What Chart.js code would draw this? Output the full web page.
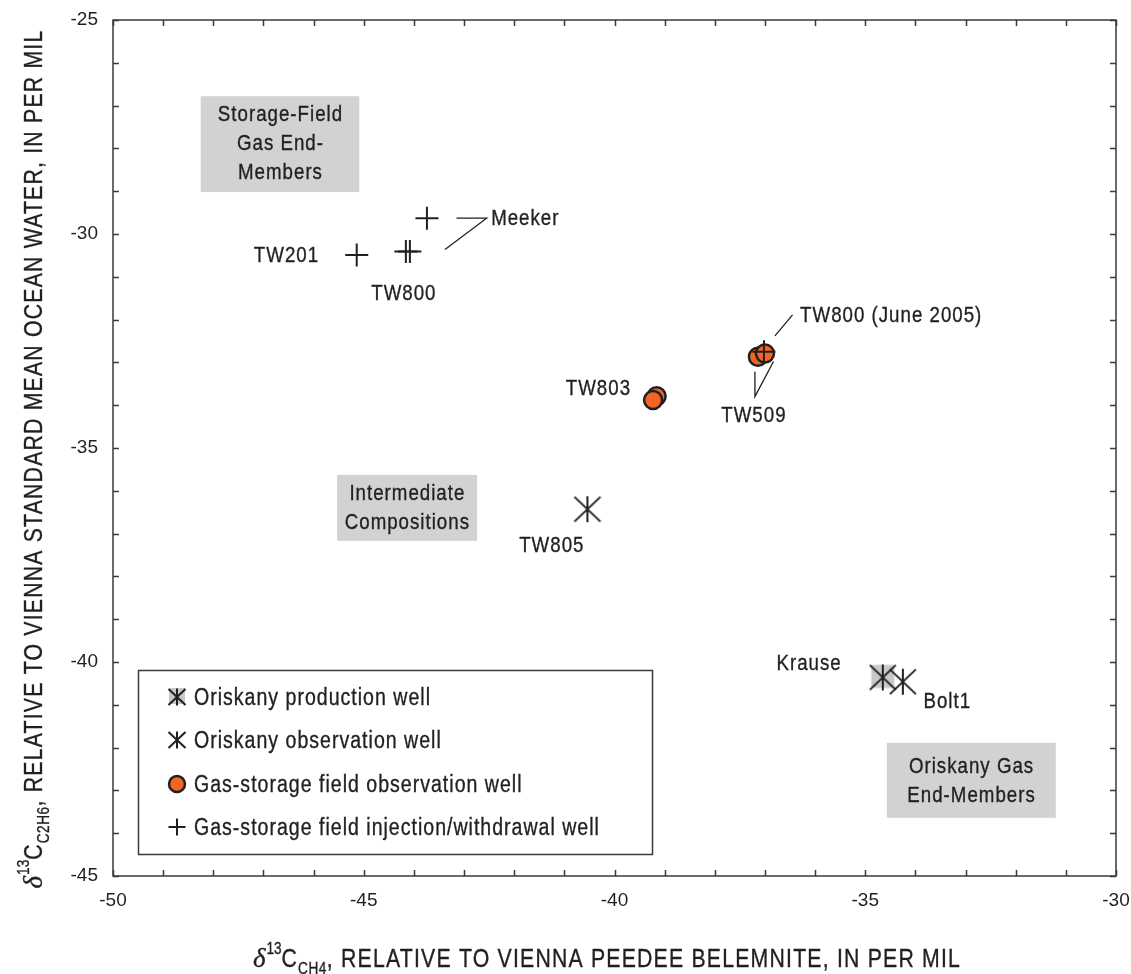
<!DOCTYPE html>
<html>
<head>
<meta charset="utf-8">
<script src="https://cdn.jsdelivr.net/npm/chart.js@4.4.1/dist/chart.umd.min.js"></script>
<style>
  html, body { margin: 0; padding: 0; background: #ffffff; }
  #wrap { width: 1131px; height: 974px; position: relative; }
</style>
</head>
<body>
<div id="wrap"><canvas id="chart" width="1131" height="974"></canvas></div>
<script>
// δ13C of methane (x) and ethane (y), per mil, by well category
const prodWellX = [-34.65];                 // Krause
const prodWellY = [-40.36];
const obsWellX  = [-40.54, -34.25];         // TW805, Bolt1
const obsWellY  = [-36.43, -40.46];
const gsObsX    = [-39.16, -39.23, -37.14, -37.00];   // TW803 (2), TW509 (2)
const gsObsY    = [-33.79, -33.88, -32.87, -32.79];
const gsInjX    = [-45.14, -44.16, -44.08, -43.74, -37.02]; // TW201, TW800 (2), Meeker, TW800 June 2005
const gsInjY    = [-30.49, -30.41, -30.41, -29.63, -32.75];

const seriesNames = [
  'Oriskany production well',
  'Oriskany observation well',
  'Gas-storage field observation well',
  'Gas-storage field injection/withdrawal well'
];
const xTickLabels = [-50, -45, -40, -35, -30];
const yTickLabels = [-25, -30, -35, -40, -45];

const INK = '#231f20';
const ORANGE = '#f26522';
const GREY_BOX = '#d1d2d4';
const SANS = "'Liberation Sans', Arial, sans-serif";
const CONDENSE = 0.85;   // horizontal squeeze giving a condensed face
const HEFT = 0.35;       // thin outline that darkens condensed text a little

const zip = (xs, ys) => xs.map((x, i) => ({ x: x, y: ys[i] }));

// six-spoke asterisk marker, optionally on a grey square
function asteriskMarker(size, half, lw, squareHalf) {
  const c = document.createElement('canvas');
  c.width = size; c.height = size;
  const g = c.getContext('2d');
  const m = size / 2;
  if (squareHalf) {
    g.fillStyle = '#c8c8c8';
    g.fillRect(m - squareHalf, m - squareHalf - 1, squareHalf * 2, squareHalf * 2);
  }
  g.strokeStyle = INK;
  g.lineWidth = lw;
  g.lineCap = 'butt';
  g.beginPath();
  g.moveTo(m, m - half); g.lineTo(m, m + half);
  g.moveTo(m - half, m - half * 0.95); g.lineTo(m + half, m + half * 0.95);
  g.moveTo(m + half, m - half * 0.95); g.lineTo(m - half, m + half * 0.95);
  g.stroke();
  return c;
}
const prodMarker = asteriskMarker(30, 13, 2, 11.5);
const obsMarker = asteriskMarker(30, 13, 2, 0);
const prodLegend = asteriskMarker(20, 8.5, 2, 8);
const obsLegend = asteriskMarker(20, 8.5, 2, 0);

// text annotations placed in data units
const pointLabels = [
  { t: 'Meeker', x: -42.46, y: -29.79, align: 'left' },
  { t: 'TW201', x: -45.91, y: -30.65, align: 'right' },
  { t: 'TW800', x: -44.21, y: -31.54, align: 'center' },
  { t: 'TW800 (June 2005)', x: -36.30, y: -32.06, align: 'left' },
  { t: 'TW509', x: -37.23, y: -34.385, align: 'center' },
  { t: 'TW803', x: -39.69, y: -33.76, align: 'right' },
  { t: 'TW805', x: -41.26, y: -37.42, align: 'center' },
  { t: 'Krause', x: -36.77, y: -40.19, align: 'left' },
  { t: 'Bolt1', x: -33.84, y: -41.08, align: 'left' }
];
const leaderLines = [
  [[-43.15, -29.63], [-42.55, -29.63], [-43.38, -30.36]],
  [[-36.45, -31.89], [-36.80, -32.38]],
  [[-37.20, -33.22], [-37.20, -33.80], [-36.83, -32.98]]
];
const groupBoxes = [
  { x0: -48.25, x1: -45.09, y0: -26.78, y1: -29.02, cx: -46.67,
    lines: ['Storage-Field', 'Gas End-', 'Members'], base: [-27.36, -28.04, -28.72] },
  { x0: -45.53, x1: -42.74, y0: -35.63, y1: -37.17, cx: -44.14,
    lines: ['Intermediate', 'Compositions'], base: [-36.21, -36.89] },
  { x0: -34.57, x1: -31.20, y0: -41.89, y1: -43.64, cx: -32.89,
    lines: ['Oriskany Gas', 'End-Members'], base: [-42.60, -43.26] }
];

function inkText(ctx, t) {
  ctx.fillText(t, 0, 0);
  ctx.strokeStyle = INK;
  ctx.lineWidth = HEFT;
  ctx.strokeText(t, 0, 0);
}

// condensed text: spacing is in final pixels
function drawText(ctx, t, x, y, align, size, spacing) {
  ctx.save();
  ctx.font = size + 'px ' + SANS;
  ctx.letterSpacing = (spacing / CONDENSE) + 'px';
  ctx.fillStyle = INK;
  ctx.textBaseline = 'alphabetic';
  ctx.textAlign = 'left';
  const w = (ctx.measureText(t).width) * CONDENSE - spacing;
  let x0 = x;
  if (align === 'center') x0 = x - w / 2;
  else if (align === 'right') x0 = x - w;
  ctx.translate(x0, y);
  ctx.scale(CONDENSE, 1);
  inkText(ctx, t);
  ctx.restore();
}

// runs of text with super/subscripts, centred on (0, 0) of the current transform
function drawRich(ctx, parts) {
  ctx.save();
  ctx.fillStyle = INK;
  ctx.textBaseline = 'alphabetic';
  ctx.textAlign = 'left';
  const sx = p => (p.sx === undefined ? CONDENSE : p.sx);
  let total = 0;
  const widths = parts.map(p => {
    ctx.font = p.font;
    ctx.letterSpacing = ((p.ls || 0) / sx(p)) + 'px';
    const w = ctx.measureText(p.t).width * sx(p) + (p.gap || 0);
    total += w;
    return w;
  });
  let x = -total / 2;
  parts.forEach((p, i) => {
    ctx.save();
    ctx.font = p.font;
    ctx.letterSpacing = ((p.ls || 0) / sx(p)) + 'px';
    ctx.translate(x, p.dy || 0);
    ctx.scale(sx(p), 1);
    inkText(ctx, p.t);
    ctx.restore();
    x += widths[i];
  });
  ctx.restore();
}

function axisTitle(sub, rest) {
  return [
    { t: '\u03B4', font: 'italic 27px "Liberation Serif", serif', sx: 1, gap: 1 },
    { t: '13', font: '16px ' + SANS, dy: -13 },
    { t: 'C', font: '25px ' + SANS, ls: 1.2 },
    { t: sub, font: '16px ' + SANS, dy: 7, ls: 0.5 },
    { t: rest, font: '25px ' + SANS, ls: 1.2 }
  ];
}

const decorPlugin = {
  id: 'decor',
  beforeDatasetsDraw(chart) {
    const ctx = chart.ctx;
    const xs = chart.scales.x, ys = chart.scales.y;
    const X = v => xs.getPixelForValue(v), Y = v => ys.getPixelForValue(v);
    ctx.save();
    ctx.fillStyle = GREY_BOX;
    groupBoxes.forEach(b => {
      ctx.fillRect(X(b.x0), Y(b.y0), X(b.x1) - X(b.x0), Y(b.y1) - Y(b.y0));
    });
    ctx.restore();
    groupBoxes.forEach(b => {
      b.lines.forEach((ln, i) => drawText(ctx, ln, X(b.cx), Y(b.base[i]), 'center', 22, 1));
    });
  },
  afterDatasetsDraw(chart) {
    const ctx = chart.ctx;
    const a = chart.chartArea;
    const xs = chart.scales.x, ys = chart.scales.y;
    const X = v => xs.getPixelForValue(v), Y = v => ys.getPixelForValue(v);

    // frame with inward ticks on all four sides
    ctx.save();
    ctx.strokeStyle = '#3a3a3a';
    ctx.lineWidth = 1.5;
    ctx.strokeRect(a.left, a.top, a.right - a.left, a.bottom - a.top);
    ctx.beginPath();
    for (let v = xs.min; v <= xs.max; v++) {
      const px = Math.round(X(v)) + 0.5;
      ctx.moveTo(px, a.bottom); ctx.lineTo(px, a.bottom - 6);
      ctx.moveTo(px, a.top); ctx.lineTo(px, a.top + 6);
    }
    for (let v = ys.min; v <= ys.max; v++) {
      const py = Math.round(Y(v)) + 0.5;
      ctx.moveTo(a.left, py); ctx.lineTo(a.left + 6, py);
      ctx.moveTo(a.right, py); ctx.lineTo(a.right - 6, py);
    }
    ctx.stroke();
    ctx.restore();

    // leader lines
    ctx.save();
    ctx.strokeStyle = INK;
    ctx.lineWidth = 1.3;
    leaderLines.forEach(pl => {
      ctx.beginPath();
      pl.forEach((p, i) => (i ? ctx.lineTo(X(p[0]), Y(p[1])) : ctx.moveTo(X(p[0]), Y(p[1]))));
      ctx.stroke();
    });
    ctx.restore();

    pointLabels.forEach(l => drawText(ctx, l.t, X(l.x), Y(l.y), l.align, 22, 1));

    // legend box
    const lx0 = 138, ly0 = 670, lx1 = 652, ly1 = 854;
    ctx.save();
    ctx.strokeStyle = '#3a3a3a';
    ctx.lineWidth = 1.5;
    ctx.strokeRect(lx0 + 0.5, ly0 + 0.5, lx1 - lx0, ly1 - ly0);
    ctx.restore();
    const rows = [697, 740, 784, 827];
    const mx = 177, tx = 194;
    chart.data.datasets.forEach((ds, i) => {
      const cy = rows[i];
      if (i === 0 || i === 1) {
        const img = i === 0 ? prodLegend : obsLegend;
        ctx.drawImage(img, mx - img.width / 2, cy - img.height / 2);
      } else {
        ctx.save();
        ctx.strokeStyle = ds.borderColor;
        ctx.fillStyle = ds.backgroundColor;
        ctx.lineWidth = ds.borderWidth;
        Chart.helpers.drawPoint(ctx, {
          pointStyle: ds.pointStyle, radius: i === 2 ? 8 : 8.5, rotation: 0, borderWidth: ds.borderWidth
        }, mx, cy);
        ctx.restore();
      }
      drawText(ctx, ds.label, tx, cy + 8, 'left', 23, 1);
    });

    // axis titles
    ctx.save();
    ctx.translate(607, 967);
    drawRich(ctx, axisTitle('CH4', ', RELATIVE TO VIENNA PEEDEE BELEMNITE, IN PER MIL'));
    ctx.restore();
    ctx.save();
    ctx.translate(42, 459);
    ctx.rotate(-Math.PI / 2);
    drawRich(ctx, axisTitle('C2H6', ', RELATIVE TO VIENNA STANDARD MEAN OCEAN WATER, IN PER MIL'));
    ctx.restore();
  }
};

const tickFont = { family: SANS, size: 19 };

// fixed axis boxes; the plot area is set by the layout padding alone
function fixAxisBox(size) {
  return s => {
    if (s.isHorizontal()) s.height = size; else s.width = size;
    s.paddingTop = 0; s.paddingBottom = 0; s.paddingLeft = 0; s.paddingRight = 0;
  };
}

new Chart(document.getElementById('chart'), {
  type: 'scatter',
  data: {
    datasets: [
      { label: seriesNames[0], data: zip(prodWellX, prodWellY), pointStyle: prodMarker,
        borderColor: INK, backgroundColor: '#c8c8c8', borderWidth: 2, order: 2 },
      { label: seriesNames[1], data: zip(obsWellX, obsWellY), pointStyle: obsMarker,
        borderColor: INK, backgroundColor: 'rgba(0,0,0,0)', borderWidth: 2, order: 1 },
      { label: seriesNames[2], data: zip(gsObsX, gsObsY), pointStyle: 'circle', pointRadius: 9,
        borderColor: INK, backgroundColor: ORANGE, borderWidth: 2.5, order: 3 },
      { label: seriesNames[3], data: zip(gsInjX, gsInjY), pointStyle: 'cross', pointRadius: 11.5,
        borderColor: INK, backgroundColor: INK, borderWidth: 2, order: 0 }
    ]
  },
  options: {
    responsive: false,
    animation: false,
    events: [],
    layout: { padding: { top: 20, right: 15, left: 0, bottom: 0 } },
    plugins: { legend: { display: false }, tooltip: { enabled: false } },
    scales: {
      x: {
        type: 'linear', min: -50, max: -30,
        grid: { display: false, drawTicks: false },
        border: { display: false },
        ticks: {
          stepSize: 1, autoSkip: false, maxRotation: 0, color: INK, font: tickFont, padding: 13,
          callback: v => (xTickLabels.includes(v) ? String(v) : '')
        },
        afterFit: fixAxisBox(98)
      },
      y: {
        type: 'linear', min: -45, max: -25,
        grid: { display: false, drawTicks: false },
        border: { display: false },
        ticks: {
          stepSize: 1, autoSkip: false, color: INK, font: tickFont, padding: 15,
          callback: v => (yTickLabels.includes(v) ? String(v) : '')
        },
        afterFit: fixAxisBox(113)
      }
    }
  },
  plugins: [decorPlugin]
});
</script>
</body>
</html>
